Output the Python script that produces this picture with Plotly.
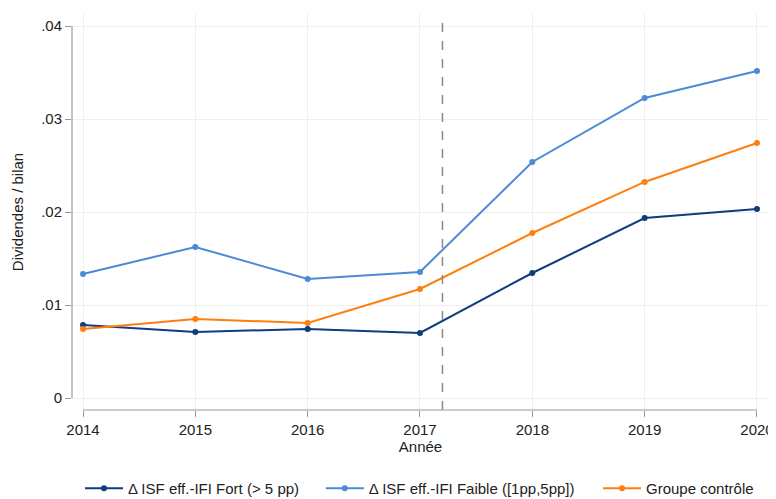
import plotly.graph_objects as go

years = [2014, 2015, 2016, 2017, 2018, 2019, 2020]
fort = [0.00785, 0.0071, 0.00742, 0.0070, 0.01344, 0.01935, 0.02032]
faible = [0.01333, 0.01624, 0.0128, 0.01355, 0.02538, 0.03226, 0.03516]
controle = [0.00742, 0.0085, 0.00806, 0.01172, 0.01774, 0.02323, 0.02742]
names = ["Δ ISF eff.-IFI Fort (> 5 pp)", "Δ ISF eff.-IFI Faible ([1pp,5pp])", "Groupe contrôle"]
colors = ["#0e3c7e", "#4b8ad6", "#ff7f0e"]
yticks = [0, 0.01, 0.02, 0.03, 0.04]
yticklabels = ["0", ".01", ".02", ".03", ".04"]
event_x = 2017.2

legend_ids = ["legend", "legend2", "legend3"]
legend_x = [0.0115, 0.357, 0.7547]

fig = go.Figure()
for vals, nm, c, lg in zip([fort, faible, controle], names, colors, legend_ids):
    fig.add_trace(go.Scatter(x=years, y=vals, name=nm, mode="lines+markers", legend=lg,
                             line=dict(color=c, width=2), marker=dict(color=c, size=6)))

fig.add_shape(type="line", xref="x", yref="paper", x0=event_x, x1=event_x, y0=0, y1=1,
              line=dict(color="#888888", width=1.5, dash="dash"))
# shortened axis lines (Stata style)
fig.add_shape(type="line", xref="paper", yref="y", x0=0, x1=0, y0=yticks[0], y1=yticks[-1],
              line=dict(color="#999999", width=1.2))
fig.add_shape(type="line", xref="x", yref="paper", x0=years[0], x1=years[-1], y0=0, y1=0,
              line=dict(color="#999999", width=1.2))

leg_common = dict(orientation="h", yref="container", y=0.037, yanchor="middle",
                  xanchor="left", font=dict(size=15), itemwidth=38,
                  bgcolor="rgba(0,0,0,0)")
layout_legends = {lg: dict(leg_common, x=lx) for lg, lx in zip(legend_ids, legend_x)}

fig.update_layout(
    width=776, height=499,
    margin=dict(l=64, r=15, t=6, b=97),
    paper_bgcolor="white", plot_bgcolor="white",
    font=dict(family="Liberation Sans, Arial, sans-serif", size=15, color="#222222"),
    xaxis=dict(range=[2013.902, 2020.107], tickvals=years, ticks="outside", ticklen=6,
               tickcolor="#999999", showgrid=True, gridcolor="#efefef", gridwidth=1,
               showline=False, zeroline=False, automargin=False,
               title=dict(text="Année", font=dict(size=15), standoff=4),
               tickfont=dict(size=15)),
    yaxis=dict(range=[-0.00129, 0.04129], tickvals=yticks, ticktext=yticklabels,
               ticks="outside", ticklen=6, tickcolor="#999999", showgrid=True,
               gridcolor="#efefef", gridwidth=1, showline=False, zeroline=False,
               automargin=False,
               title=dict(text="Dividendes / bilan", font=dict(size=15), standoff=13),
               tickfont=dict(size=15)),
    showlegend=True,
    **layout_legends,
)

fig.write_html("out.html")
